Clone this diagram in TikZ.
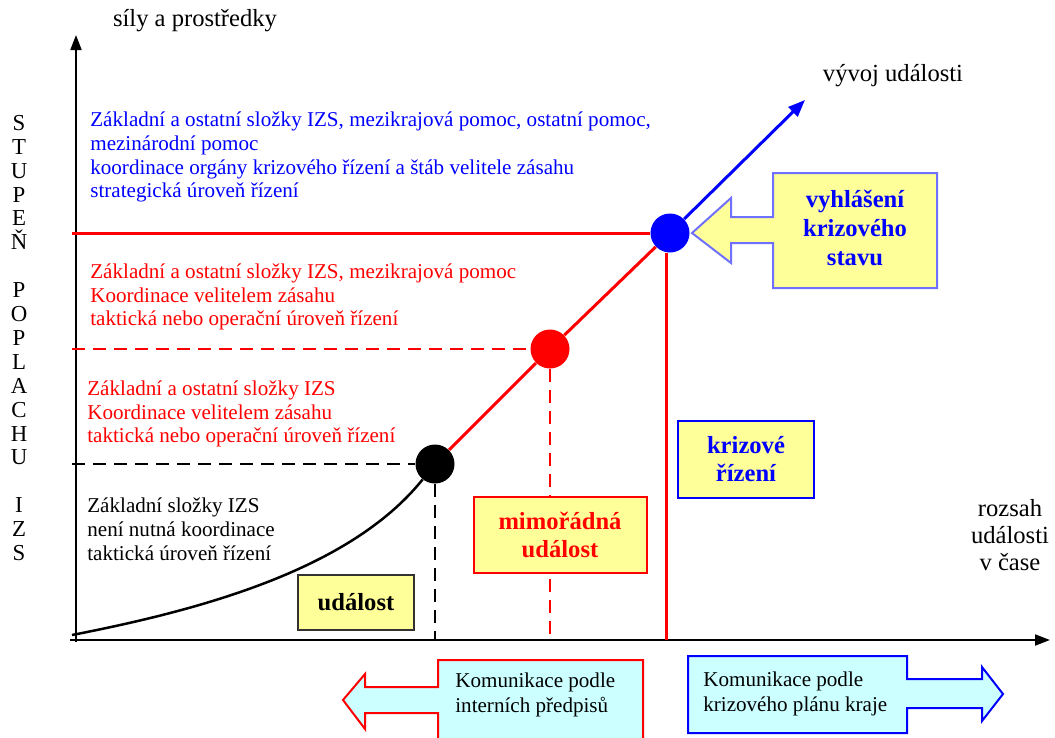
\documentclass[tikz,border=0pt]{standalone}
\usepackage{fontspec}
\setmainfont{Liberation Serif}
\usetikzlibrary{arrows.meta}

\definecolor{boxyellow}{HTML}{FFFF99}
\definecolor{boxcyan}{HTML}{CCFFFF}
\definecolor{softblue}{HTML}{7070FF}

\begin{document}
\begin{tikzpicture}[x=0.2mm, y={(0mm,-0.2mm)},
  axis/.style={line width=0.4mm, -{Triangle[length=3mm,width=2.2mm]}},
  level/.style={line width=0.6mm},
  dashline/.style={line width=0.5mm, dash pattern=on 2.6mm off 1.6mm},
  dot/.style={circle, inner sep=0pt, minimum size=7.8mm},
  bodytext/.style={font=\fontsize{12}{13.6}\selectfont, align=left, inner sep=0pt, anchor=west},
  bigtext/.style={font=\fontsize{14}{15.4}\selectfont, align=center, inner sep=0pt},
  stagebox/.style={draw, line width=0.4mm, fill=boxyellow, inner sep=0pt, align=center,
    font=\bfseries\fontsize{14}{16.4}\selectfont},
  commtext/.style={font=\fontsize{12}{14.2}\selectfont, align=left, inner sep=0pt, anchor=west}
  ]
  \useasboundingbox (0,0) rectangle (1055,737);

  % axes
  \draw[axis] (70,640) -- (1050,640);
  \draw[axis] (76,642) -- (76,35);
  \coordinate (xaxis) at (76,640);
  \coordinate (yaxis) at (72,640);
  % axis labels
  \node[bigtext] (ylabel) at (195,21) {síly a prostředky};
  \node[bigtext] (xlabel) at (1010,535) {rozsah\\události\\v čase};
  \node[bigtext] (evlabel) at (893,76) {vývoj události};
  \node[font=\fontsize{13}{13.6}\selectfont, align=center, inner sep=0pt] (degree) at (19,338)
    {S\\T\\U\\P\\E\\Ň\\\mbox{}\\P\\O\\P\\L\\A\\C\\H\\U\\\mbox{}\\I\\Z\\S};

  % levels
  \node[dot, fill=black] (ev1) at (435,464) {};
  \node[dot, fill=red] (ev2) at (550,349) {};
  \node[dot, fill=blue] (ev3) at (670,233) {};
  \coordinate (start) at (72,635);
  \coordinate (end) at (805,100);

  % curve and line
  \draw[line width=0.5mm] (start) .. controls (200,610) and (350,570) .. (ev1);
  \draw[level, red] (ev1) -- (ev2) -- (ev3);
  \draw[level, blue, -{Triangle[length=3.4mm,width=2.6mm]}] (ev3) -- (end);

  % horizontal lines
  \draw[dashline] (yaxis |- ev1) -- (ev1);
  \draw[dashline, red] (yaxis |- ev2) -- (ev2);
  \draw[level, red] (yaxis |- ev3) -- (ev3);
  % vertical lines
  \draw[dashline] (ev1) -- (ev1 |- xaxis);
  \draw[dashline, red] (ev2) -- (ev2 |- xaxis);
  \draw[level, red] (ev3.260) -- (ev3.260 |- xaxis);

  % level texts
  \node[bodytext, text=blue] (lvl3) at (90,157) {Základní a ostatní složky IZS, mezikrajová pomoc, ostatní pomoc,\\
    mezinárodní pomoc\\koordinace orgány krizového řízení a štáb velitele zásahu\\strategická úroveň řízení};
  \node[bodytext, text=red] (lvl2) at (90,297) {Základní a ostatní složky IZS, mezikrajová pomoc\\
    Koordinace velitelem zásahu\\taktická nebo operační úroveň řízení};
  \node[bodytext, text=red] (lvl1) at (87,414) {Základní a ostatní složky IZS\\
    Koordinace velitelem zásahu\\taktická nebo operační úroveň řízení};
  \node[bodytext] (lvl0) at (87,529) {Základní složky IZS\\není nutná koordinace\\taktická úroveň řízení};

  % stage boxes
  \node[stagebox, draw=black!80, minimum width=23.2mm, minimum height=11mm] (event) at (356,602) {událost};
  \node[stagebox, draw=red, text=red, minimum width=34.6mm, minimum height=15.2mm] (emergency) at (560,535) {mimořádná\\událost};
  \node[stagebox, draw=blue, text=blue, minimum width=27.2mm, minimum height=15.4mm] (crisis) at (746,459) {krizové\\řízení};

  % declaration arrow
  \draw[line width=0.4mm, draw=softblue, fill=boxyellow]
    (937,173) -- (773,173) -- (773,217) -- (731,217) -- (731,198) -- (692,233)
    -- (731,263) -- (731,243) -- (773,243) -- (773,288) -- (937,288) -- cycle;
  \node[bigtext, font=\bfseries\fontsize{14}{16.4}\selectfont, text=blue] (declare) at (855,228)
    {vyhlášení\\krizového\\stavu};

  % communication arrows
  \draw[line width=0.4mm, draw=red, fill=boxcyan]
    (643,660) -- (438,660) -- (438,687) -- (365,687) -- (365,674) -- (343,700)
    -- (365,729) -- (365,713) -- (438,713) -- (438,745) -- (643,745) -- cycle;
  \node[commtext] (internal) at (455,695) {Komunikace podle\\interních předpisů};
  \draw[line width=0.4mm, draw=blue, fill=boxcyan]
    (688,656) -- (907,656) -- (907,679) -- (982,679) -- (982,667) -- (1003,694)
    -- (982,721) -- (982,708) -- (907,708) -- (907,733) -- (688,733) -- cycle;
  \node[commtext] (regional) at (703,694) {Komunikace podle\\krizového plánu kraje};

\end{tikzpicture}
\end{document}
